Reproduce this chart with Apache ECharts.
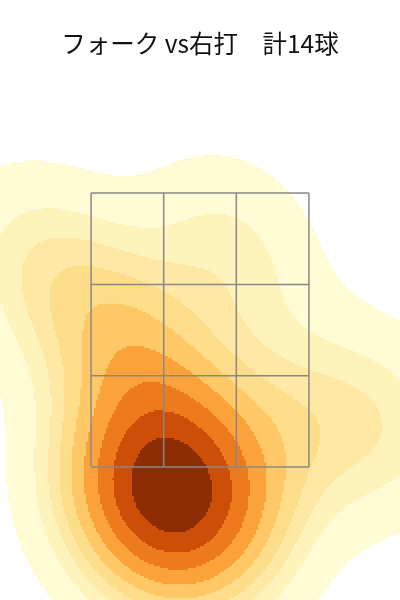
<!DOCTYPE html>
<html>
<head>
<meta charset="utf-8">
<script src="https://cdn.jsdelivr.net/npm/echarts@6/dist/echarts.min.js"></script>
<style>html,body{margin:0;padding:0;background:#fff;}#chart{width:400px;height:600px;}</style>
</head>
<body>
<div id="chart"></div>
<script>
// ---- data ----
const titleText = 'フォーク vs右打　計14球';
// estimated pitch locations (plate_x, plate_z in ft)
const pitchX = [-0.377, 0.020, -0.507, 0.143, -0.208, -0.117, -0.312, -0.163, -0.358, -0.585, -1.040, 0.195, 0.585, 1.170];
const pitchZ = [1.450, 1.450, 1.209, 1.209, 1.333, 1.099, 1.012, 1.698, 2.267, 2.537, 2.975, 3.048, 1.807, 1.844];
// strike zone grid edges
const zoneX = [-0.708, -0.236, 0.236, 0.708];
const zoneZ = [1.5, 2.1667, 2.8333, 3.5];
// contour band colours (low -> high density)
const bandColors = ['#FFFBD5', '#FFF3BC', '#FEE8A4', '#FDDC8A', '#FDC865', '#FBA33A', '#EE7A1E', '#CD4E06', '#8C2D04'];
const isoProps = [0.05, 0.1556, 0.2611, 0.3667, 0.4722, 0.5778, 0.6833, 0.7889, 0.8944, 1.0];
const bwAdjust = 1.12;

const view = {xMin: -1.3, xMax: 1.3, zMin: 0.53, zMax: 4.53, nx: 200, nz: 274};

// ---- gaussian KDE (scott) ----
const n = pitchX.length;
const mx = pitchX.reduce((a, b) => a + b, 0) / n;
const mz = pitchZ.reduce((a, b) => a + b, 0) / n;
let sxx = 0, szz = 0, sxz = 0;
for (let i = 0; i < n; i++) {
  const dx = pitchX[i] - mx, dz = pitchZ[i] - mz;
  sxx += dx * dx; szz += dz * dz; sxz += dx * dz;
}
sxx /= (n - 1); szz /= (n - 1); sxz /= (n - 1);
const f2 = Math.pow(n, -2 / 6) * bwAdjust * bwAdjust;
const cxx = sxx * f2, czz = szz * f2, cxz = sxz * f2;
const det = cxx * czz - cxz * cxz;
const ixx = czz / det, izz = cxx / det, ixz = -cxz / det;
function density(x, z) {
  let s = 0;
  for (let i = 0; i < n; i++) {
    const dx = x - pitchX[i], dz = z - pitchZ[i];
    s += Math.exp(-0.5 * (ixx * dx * dx + 2 * ixz * dx * dz + izz * dz * dz));
  }
  return s;
}
// support grid (seaborn style) for iso-proportion levels
const bwx = Math.sqrt(cxx), bwz = Math.sqrt(czz);
const gx0 = Math.min(...pitchX) - 3 * bwx, gx1 = Math.max(...pitchX) + 3 * bwx;
const gz0 = Math.min(...pitchZ) - 3 * bwz, gz1 = Math.max(...pitchZ) + 3 * bwz;
const G = 200, vals = [];
for (let i = 0; i < G; i++) for (let j = 0; j < G; j++) {
  vals.push(density(gx0 + (gx1 - gx0) * i / (G - 1), gz0 + (gz1 - gz0) * j / (G - 1)));
}
const sorted = vals.slice().sort((a, b) => b - a);
const total = sorted.reduce((a, b) => a + b, 0);
const cum = []; let acc = 0;
for (const v of sorted) { acc += v; cum.push(acc / total); }
const levels = isoProps.map(p => {
  const target = 1 - p;
  let k = 0; while (k < cum.length && cum[k] < target) k++;
  return sorted[Math.min(k, sorted.length - 1)];
});

// ---- bands as row runs ----
const cells = [];
const dxs = (view.xMax - view.xMin) / view.nx, dzs = (view.zMax - view.zMin) / view.nz;
for (let j = 0; j < view.nz; j++) {
  const z0 = view.zMin + j * dzs, zc = z0 + dzs / 2;
  let runStart = 0, runBand = -2;
  for (let i = 0; i <= view.nx; i++) {
    let b = -2;
    if (i < view.nx) {
      const d = density(view.xMin + (i + 0.5) * dxs, zc);
      b = -1;
      for (let k = 0; k < 9; k++) if (d >= levels[k]) b = k;
    }
    if (b !== runBand) {
      if (runBand >= 0) cells.push([view.xMin + runStart * dxs, view.xMin + i * dxs, z0, z0 + dzs, runBand]);
      runStart = i; runBand = b;
    }
  }
}

// ---- chart ----
const chart = echarts.init(document.getElementById('chart'), null, {renderer: 'canvas'});
const lineSeries = [];
zoneZ.forEach(z => lineSeries.push({type: 'line', data: [[zoneX[0], z], [zoneX[3], z]], symbol: 'none', silent: true, animation: false, z: 5, lineStyle: {color: '#888', width: 1.5}}));
zoneX.forEach(x => lineSeries.push({type: 'line', data: [[x, zoneZ[0]], [x, zoneZ[3]]], symbol: 'none', silent: true, animation: false, z: 5, lineStyle: {color: '#888', width: 1.5}}));

chart.setOption({
  animation: false,
  backgroundColor: '#fff',
  title: {text: titleText, left: 'center', top: 26, textStyle: {fontFamily: 'Noto Sans CJK JP', fontSize: 24.5, fontWeight: 'normal', color: '#111'}},
  grid: {left: 0, right: 0, top: 52, bottom: 0},
  xAxis: {type: 'value', min: view.xMin, max: view.xMax, show: false},
  yAxis: {type: 'value', min: view.zMin, max: view.zMax, show: false},
  series: [{
    type: 'custom',
    silent: true,
    progressive: 0,
    z: 1,
    data: cells,
    encode: {x: [0, 1], y: [2, 3]},
    renderItem: function (params, api) {
      const p0 = api.coord([api.value(0), api.value(3)]);
      const p1 = api.coord([api.value(1), api.value(2)]);
      return {type: 'rect', shape: {x: p0[0], y: p0[1], width: p1[0] - p0[0], height: p1[1] - p0[1]}, style: {fill: bandColors[api.value(4)]}};
    }
  }].concat(lineSeries)
});
</script>
</body>
</html>
